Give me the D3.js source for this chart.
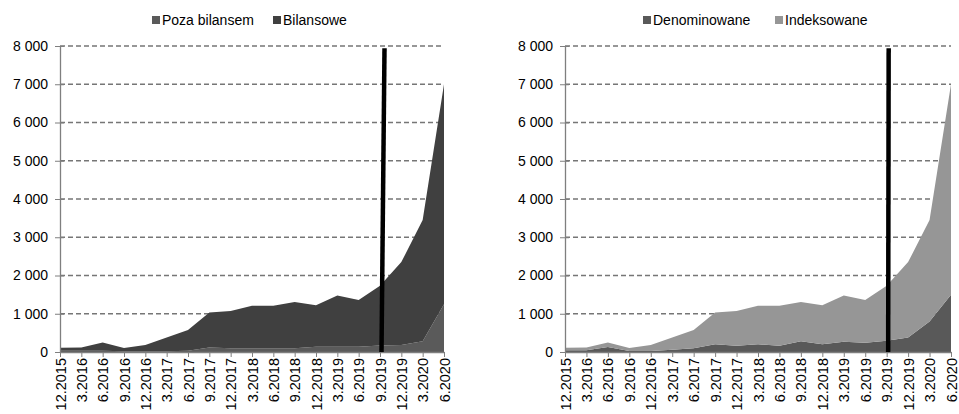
<!DOCTYPE html>
<html>
<head>
<meta charset="utf-8">
<script src="https://cdn.jsdelivr.net/npm/d3@7"></script>
<style>
  body { margin: 0; background: #fff; }
  svg { font-family: "Liberation Sans", Arial, sans-serif; }
</style>
</head>
<body>
<div id="app"></div>
<script>
// quarters on the x axis
let quarters = ["12.2015", "3.2016", "6.2016", "9.2016", "12.2016", "3.2017", "6.2017", "9.2017",
  "12.2017", "3.2018", "6.2018", "9.2018", "12.2018", "3.2019", "6.2019", "9.2019",
  "12.2019", "3.2020", "6.2020"]
let yTicks = [0, 1000, 2000, 3000, 4000, 5000, 6000, 7000, 8000]

// left chart
let pozaBilansem = [30, 30, 30, 20, 20, 20, 30, 120, 100, 100, 100, 100, 140, 140, 140, 170, 180, 280, 1250]
let bilansowe = [80, 85, 220, 85, 160, 360, 545, 910, 970, 1110, 1110, 1210, 1080, 1340, 1220, 1560, 2170, 3170, 5750]

// right chart
let denominowane = [45, 45, 130, 25, 25, 60, 95, 200, 165, 200, 165, 280, 200, 270, 245, 295, 380, 800, 1500]
let indeksowane = [65, 70, 120, 80, 155, 320, 480, 830, 905, 1010, 1045, 1030, 1020, 1210, 1115, 1435, 1970, 2650, 5500]

let marker = "9.2019"

let W = 959, H = 414
let svg = d3.select("#app").append("svg")
  .attr("width", W)
  .attr("height", H)

let fmt = v => d3.format(",")(v).replace(/,/g, " ")

function drawChart(opts) {
  let x = d3.scalePoint().domain(quarters).range([opts.x0, opts.x1])
  let y = d3.scaleLinear().domain([0, 8000]).range([352, 46])
  let g = svg.append("g")

  // gridlines
  g.selectAll(".grid").data(yTicks.filter(d => d > 0)).enter().append("line")
    .attr("x1", opts.x0).attr("x2", opts.x1)
    .attr("y1", d => y(d)).attr("y2", d => y(d))
    .attr("stroke", "#767676").attr("stroke-width", 1.3)
    .attr("stroke-dasharray", "5,3")

  // stacked areas (first series at the bottom)
  let rows = quarters.map((q, i) => {
    let r = {q: q}
    opts.series.forEach(s => r[s.name] = s.values[i])
    return r
  })
  let stack = d3.stack().keys(opts.series.map(s => s.name))(rows)
  let area = d3.area()
    .x(d => x(d.data.q))
    .y0(d => y(d[0]))
    .y1(d => y(d[1]))
  g.selectAll(".layer").data(stack).enter().append("path")
    .attr("d", area)
    .attr("fill", (d, i) => opts.series[i].color)

  // y axis, ticks cross the axis line
  let ya = g.append("g").attr("transform", "translate(" + opts.x0 + ",0)")
    .call(d3.axisLeft(y).tickValues(yTicks).tickFormat(fmt).tickSize(5).tickPadding(7).tickSizeOuter(0))
  ya.select(".domain").attr("stroke", "#7f7f7f").attr("stroke-width", 1.3)
  ya.selectAll(".tick line").attr("stroke", "#7f7f7f").attr("x1", 4).attr("x2", -5)
  ya.selectAll("text").attr("font-size", 14).attr("fill", "#000")
    .attr("font-family", "Liberation Sans, Arial, sans-serif")

  // x axis
  let xa = g.append("g").attr("transform", "translate(0,352)")
    .call(d3.axisBottom(x).tickSize(5).tickPadding(3).tickSizeOuter(0))
  xa.select(".domain").attr("stroke", "#7f7f7f").attr("stroke-width", 1.3)
  xa.selectAll(".tick line").attr("stroke", "#7f7f7f")
  xa.selectAll("text")
    .attr("font-size", 14.5).attr("fill", "#000")
    .attr("font-family", "Liberation Sans, Arial, sans-serif")
    .attr("transform", "rotate(-90)")
    .attr("text-anchor", "end")
    .attr("x", -6).attr("y", 0).attr("dy", "0.35em")

  // marker line
  g.append("line")
    .attr("x1", x(marker) + 1.5).attr("y1", y(0))
    .attr("x2", x(marker) + 1.5 + opts.tilt).attr("y2", y(7940))
    .attr("stroke", "#000").attr("stroke-width", 4.5)

  // legend
  let leg = g.selectAll(".leg").data(opts.legend).enter().append("g")
    .attr("transform", (d, i) => "translate(" + opts.legX[i] + ",20)")
  leg.append("rect").attr("x", 0).attr("y", -4).attr("width", 8).attr("height", 8)
    .attr("fill", d => d.color)
  leg.append("text").attr("x", 10).attr("y", 0).attr("dy", "0.35em")
    .attr("font-size", 14).text(d => d.name)
}

let sPoza = {name: "Poza bilansem", values: pozaBilansem, color: "#5a5a5a"}
let sBil = {name: "Bilansowe", values: bilansowe, color: "#404040"}
drawChart({
  x0: 60, x1: 444, tilt: 3,
  legX: [152, 273],
  series: [sPoza, sBil],
  legend: [sPoza, sBil]
})

let sDen = {name: "Denominowane", values: denominowane, color: "#595959"}
let sInd = {name: "Indeksowane", values: indeksowane, color: "#969696"}
drawChart({
  x0: 565, x1: 951, tilt: 0.5,
  legX: [643, 775],
  series: [sDen, sInd],
  legend: [sDen, sInd]
})
</script>
</body>
</html>
